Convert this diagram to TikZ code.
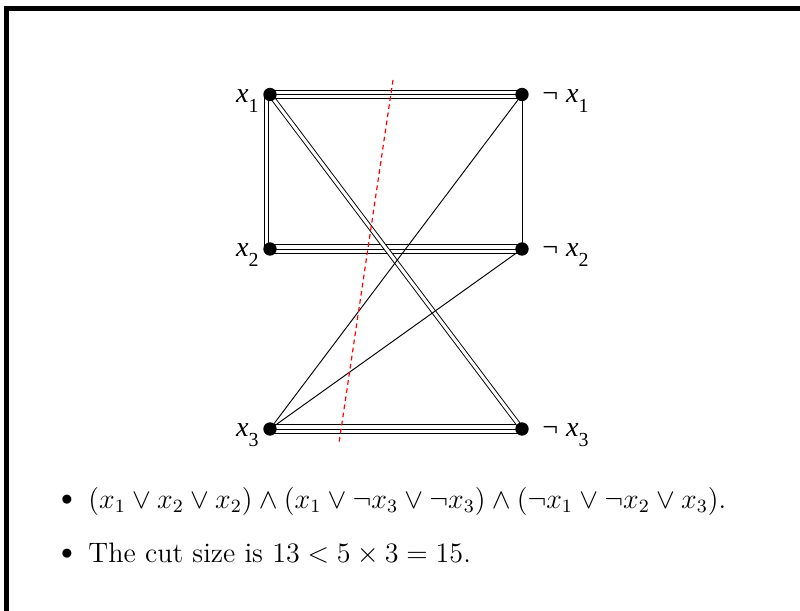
\documentclass[tikz,border=0pt]{standalone}
\usepackage{fontspec}
\usetikzlibrary{backgrounds}
\newfontfamily\labfont{Liberation Serif}
\newfontfamily\labitfont{Liberation Serif Italic}
\newcommand{\lit}[1]{{\labitfont\fontsize{12}{14}\selectfont x\labfont\raisebox{-4pt}{\fontsize{8.5}{9}\selectfont #1}}}
\begin{document}
\begin{tikzpicture}[x=0.015cm,y=-0.015cm,
	vert/.style={circle,fill=black,inner sep=0pt,minimum size=0.2cm},
	dbl/.style={double,double distance=1.3pt},
	trpl/.style={double,double distance=3.4pt},
	cut/.style={red,line width=0.5pt,dash pattern=on 2pt off 1.5pt},
	txt/.style={anchor=base west,inner sep=0pt,font=\fontsize{12}{14}\selectfont}]
	\useasboundingbox (0,0) rectangle (800,611);
	\draw[line width=0.075cm,miter limit=10] (6.5,611) |- (800,8.5);
	\node[vert] (x1) at (270,94.5) {};
	\node[vert] (n1) at (522,94.5) {};
	\node[vert] (x2) at (270,249) {};
	\node[vert] (n2) at (522,249) {};
	\node[vert] (x3) at (270,429) {};
	\node[vert] (n3) at (522,429) {};
	\node[anchor=base east,inner sep=0pt] (lx1) at (259,103) {\lit{1}};
	\node[anchor=base east,inner sep=0pt] (lx2) at (259,257) {\lit{2}};
	\node[anchor=base east,inner sep=0pt] (lx3) at (259,437) {\lit{3}};
	\node[anchor=base west,inner sep=0pt] (ln1) at (542,103) {{\labfont\fontsize{12}{14}\selectfont ¬} \lit{1}};
	\node[anchor=base west,inner sep=0pt] (ln2) at (542,257) {{\labfont\fontsize{12}{14}\selectfont ¬} \lit{2}};
	\node[anchor=base west,inner sep=0pt] (ln3) at (542,437) {{\labfont\fontsize{12}{14}\selectfont ¬} \lit{3}};
	\begin{scope}[on background layer]
		\foreach \a/\b in {x1/n1,x2/n2,x3/n3}{
			\draw[trpl] (\a.center) -- (\b.center);
			\draw (\a.center) -- (\b.center);
		}
		\draw ([xshift=-0.03cm]x1.center) -- ([xshift=-0.03cm]x2.center);
		\draw ([xshift=-0.09cm]x1.center) -- ([xshift=-0.09cm]x2.center);
		\draw[dbl] (x1.center) -- (n3.center);
		\draw (n1.center) -- (n2.center);
		\draw (n1.center) -- (x3.center);
		\draw (n2.center) -- (x3.center);
	\end{scope}
	\coordinate (c1) at (393,80);
	\coordinate (c2) at (339,443);
	\draw[cut] (c1) -- (c2);
	\node (b1) at (67,500) {$\bullet$};
	\node[txt] (t1) at (88,508) {$(x_1 \vee x_2 \vee x_2) \wedge (x_1 \vee \neg x_3 \vee \neg x_3) \wedge (\neg x_1 \vee \neg x_2 \vee x_3)$.};
	\node (b2) at (67,554) {$\bullet$};
	\node[txt] (t2) at (88,562) {The cut size is $13 < 5 \times 3 = 15$.};
\end{tikzpicture}
\end{document}
